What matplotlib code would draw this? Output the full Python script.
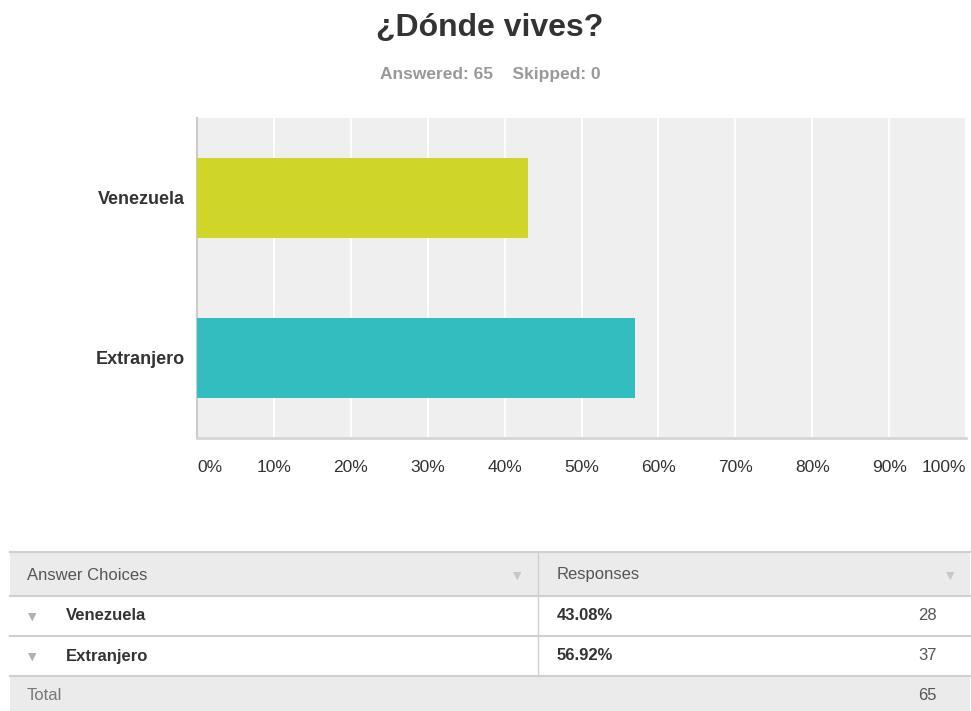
import matplotlib
matplotlib.use("Agg")
import matplotlib.pyplot as plt
from matplotlib.patches import Rectangle
import matplotlib.transforms as mtrans

plt.rcParams['font.family'] = ['Liberation Sans', 'DejaVu Sans']

categories = ["Venezuela", "Extranjero"]
percentages = [43.08, 56.92]
counts = [28, 37]
colors = ["#cfd628", "#33bdbf"]
ticks = [0, 10, 20, 30, 40, 50, 60, 70, 80, 90, 100]
tick_labels = [f"{t}%" for t in ticks]
title = "¿Dónde vives?"
answered = 65
skipped = 0

W, H = 971, 711
fig = plt.figure(figsize=(W / 100, H / 100), dpi=100)

# Title and subtitle
fig.text(490 / W, 1 - 28 / H, title, ha="center", va="center", fontsize=23,
         fontweight="bold", color="#333333")
fig.text(490 / W, 1 - 75 / H, f"Answered: {answered}    Skipped: {skipped}",
         ha="center", va="center", fontsize=12.5, fontweight="bold", color="#999999")

# Bar chart
x0, x1, ytop, ybot = 197, 966, 118, 438
ax = fig.add_axes([x0 / W, 1 - ybot / H, (x1 - x0) / W, (ybot - ytop) / H])
ax.set_facecolor("#efefef")
ypos = [0, 1]
ax.barh(ypos, percentages, height=0.5, color=colors, zorder=3)
ax.set_xlim(0, 100)
ax.set_ylim(1.5, -0.5)
ax.set_xticks(ticks)
ax.set_xticklabels([])
ax.grid(axis="x", color="white", linewidth=1.5, zorder=1)
ax.tick_params(axis="both", length=0)
ax.set_yticks(ypos)
ax.set_yticklabels(categories, fontsize=13, fontweight="bold", color="#333333")
ax.tick_params(axis="y", pad=9)
for s in ["top", "right"]:
    ax.spines[s].set_visible(False)
ax.spines["left"].set_color("#cccccc")
ax.spines["left"].set_linewidth(1.5)
ax.spines["bottom"].set_color("#d5d5d5")
ax.spines["bottom"].set_linewidth(2)

trans = mtrans.blended_transform_factory(ax.transData, fig.transFigure)
for t, lab in zip(ticks, tick_labels):
    ha = "left" if t == 0 else ("right" if t == 100 else "center")
    ax.text(t, 1 - 468 / H, lab, transform=trans, ha=ha, va="center",
            fontsize=12.5, color="#333333")

# Table
tab = fig.add_axes([0, 0, 1, 1], facecolor="none")
tab.set_xlim(0, W)
tab.set_ylim(H, 0)
tab.axis("off")
L, R, div = 10, 970, 538
rows = [(552, 596, "#ebebeb"), (596, 636, "white"), (636, 676, "white"), (676, 711, "#ebebeb")]
for ya, yb, c in rows:
    tab.add_patch(Rectangle((L, ya), R - L, yb - ya, facecolor=c, edgecolor="none"))
for y in [552, 596, 636, 676]:
    tab.plot([L, R], [y, y], color="#d0d0d0", linewidth=1.5)
tab.plot([div, div], [552, 676], color="#d0d0d0", linewidth=1)

tab.text(27, 575, "Answer Choices", ha="left", va="center", fontsize=12, color="#555555")
tab.text(557, 575, "Responses", ha="left", va="center", fontsize=12, color="#555555")
tab.text(517, 576, "▼", ha="center", va="center", fontsize=8, color="#c8c8c8",
         family=["DejaVu Sans"])
tab.text(950, 576, "▼", ha="center", va="center", fontsize=8, color="#c8c8c8",
         family=["DejaVu Sans"])
for i, (cat, p, n) in enumerate(zip(categories, percentages, counts)):
    yc = 616 + 40 * i
    tab.text(32, yc + 1, "▼", ha="center", va="center", fontsize=8, color="#b0b0b0",
             family=["DejaVu Sans"])
    tab.text(66, yc, cat, ha="left", va="center", fontsize=12, fontweight="bold", color="#333333")
    tab.text(557, yc, f"{p:.2f}%", ha="left", va="center", fontsize=12, fontweight="bold",
             color="#333333")
    tab.text(937, yc, str(n), ha="right", va="center", fontsize=12, color="#555555")
tab.text(27, 696, "Total", ha="left", va="center", fontsize=12, color="#777777")
tab.text(937, 696, str(sum(counts)), ha="right", va="center", fontsize=12, color="#555555")

fig.savefig("out.png", dpi=100)
